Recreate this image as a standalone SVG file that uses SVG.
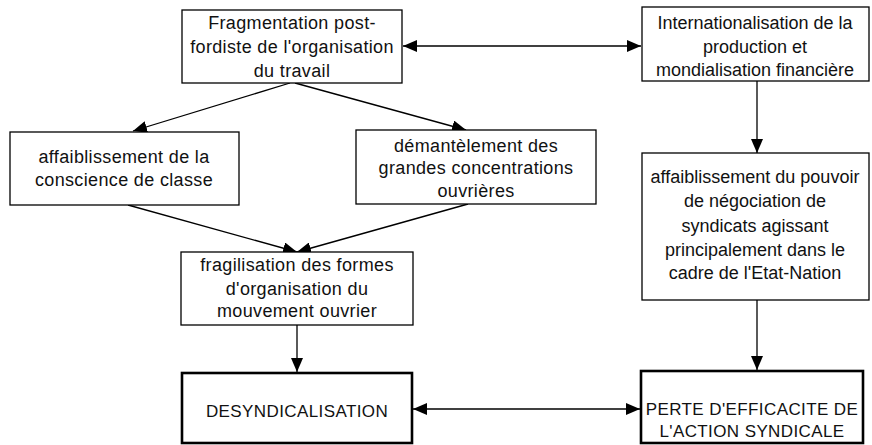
<svg xmlns="http://www.w3.org/2000/svg" width="872" height="445" viewBox="0 0 872 445">
<style>
.box{fill:#fff;stroke:#000;stroke-width:1.3}
.bold{fill:#fff;stroke:#000;stroke-width:2.6}
text{font-family:"Liberation Sans",Arial,sans-serif;font-size:18px;fill:#111;text-anchor:middle;letter-spacing:0.35px}
text.n{letter-spacing:0}
text.u{font-size:17px;letter-spacing:0.4px}
.c{fill:none;stroke:#000;stroke-width:1.3}
</style>
<defs>
<marker id="ah" viewBox="0 0 14 12" refX="14" refY="6" markerWidth="14" markerHeight="12" markerUnits="userSpaceOnUse" orient="auto-start-reverse">
<path d="M0,0 L14,6 L0,12 Z" fill="#000"/>
</marker>
</defs>
<rect width="872" height="445" fill="#fff"/>
<g id="connectors">
<line class="c" x1="403" y1="46" x2="641" y2="46" marker-start="url(#ah)" marker-end="url(#ah)"/>
<line class="c" x1="290" y1="83" x2="133" y2="131" marker-end="url(#ah)"/>
<line class="c" x1="295" y1="83" x2="466" y2="130" marker-end="url(#ah)"/>
<line class="c" x1="128" y1="205" x2="297" y2="252" marker-end="url(#ah)"/>
<line class="c" x1="468" y1="204" x2="297" y2="252" marker-end="url(#ah)"/>
<line class="c" x1="757" y1="81" x2="757" y2="153" marker-end="url(#ah)"/>
<line class="c" x1="297" y1="325" x2="297" y2="372" marker-end="url(#ah)"/>
<line class="c" x1="757" y1="300" x2="757" y2="370" marker-end="url(#ah)"/>
<line class="c" x1="413" y1="409" x2="640" y2="409" marker-start="url(#ah)" marker-end="url(#ah)"/>
</g>
<g id="n1">
<rect class="box" x="182" y="10" width="220" height="73"/>
<text x="292" y="29">Fragmentation post-</text>
<text x="292" y="53">fordiste de l'organisation</text>
<text x="292" y="77">du travail</text>
</g>
<g id="n2">
<rect class="box" x="642" y="7" width="227" height="74"/>
<text class="n" x="755" y="29">Internationalisation de la</text>
<text class="n" x="755" y="53">production et</text>
<text class="n" x="755" y="76">mondialisation financière</text>
</g>
<g id="n3">
<rect class="box" x="10" y="132" width="229" height="73"/>
<text x="124" y="163">affaiblissement de la</text>
<text x="124" y="186">conscience de classe</text>
</g>
<g id="n4">
<rect class="box" x="356" y="130" width="240" height="74"/>
<text x="476" y="152">démantèlement des</text>
<text x="476" y="174">grandes concentrations</text>
<text x="476" y="197">ouvrières</text>
</g>
<g id="n5">
<rect class="box" x="181" y="252" width="232" height="73"/>
<text x="297" y="271">fragilisation des formes</text>
<text x="297" y="295">d'organisation du</text>
<text x="297" y="317">mouvement ouvrier</text>
</g>
<g id="n6">
<rect class="box" x="642" y="153" width="227" height="147"/>
<text class="n" x="755" y="183">affaiblissement du pouvoir</text>
<text class="n" x="755" y="207">de négociation de</text>
<text class="n" x="755" y="232">syndicats agissant</text>
<text class="n" x="755" y="256">principalement dans le</text>
<text class="n" x="755" y="279">cadre de l'Etat-Nation</text>
</g>
<g id="n7">
<rect class="bold" x="182" y="373" width="230" height="70"/>
<text class="u" x="297" y="417">DESYNDICALISATION</text>
</g>
<g id="n8">
<rect class="bold" x="641" y="371" width="222" height="72"/>
<text class="u" x="752" y="415">PERTE D'EFFICACITE DE</text>
<text class="u" x="752" y="437">L'ACTION SYNDICALE</text>
</g>
</svg>
